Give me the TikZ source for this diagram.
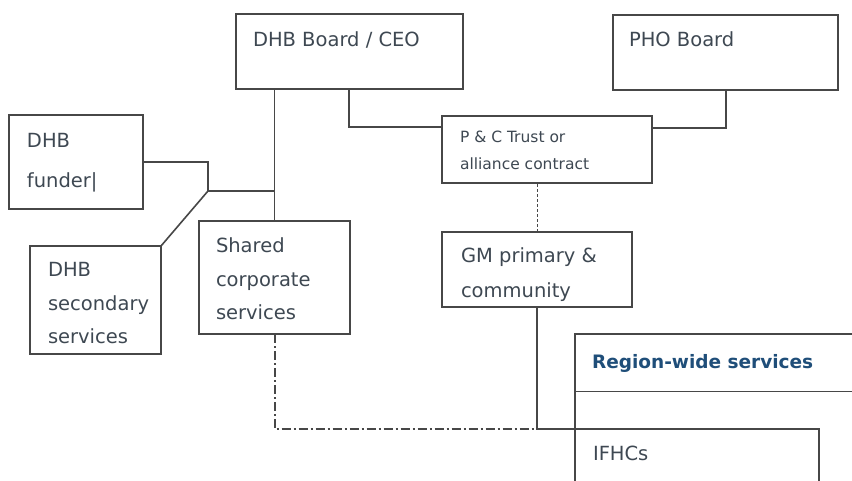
\documentclass[tikz,border=0pt]{standalone}
\usepackage{fontspec}
\setmainfont{DejaVu Sans}
\definecolor{linec}{HTML}{474747}
\definecolor{txtc}{HTML}{3E4852}
\definecolor{regc}{HTML}{1F4E79}
\begin{document}
\begin{tikzpicture}[x=1pt,y=-1pt,
  box/.style={draw=linec,line width=2pt,inner sep=0pt,outer sep=0pt,anchor=north west},
  conn/.style={draw=linec,line width=1.6pt},
  dashconn/.style={draw=linec,line width=1pt,dash pattern=on 3pt off 2pt},
  dashdotconn/.style={draw=linec,line width=2pt,dash pattern=on 9pt off 3pt on 2pt off 3pt},
  txt/.style={text=txtc,inner sep=0pt,outer sep=0pt,anchor=base west,font=\fontsize{19.5}{33.5}\selectfont},
  smalltxt/.style={txt,font=\fontsize{15.5}{27}\selectfont},
  regtxt/.style={txt,text=regc,font=\fontsize{18.5}{20}\selectfont\bfseries}]
\useasboundingbox (0,0) rectangle (852,481);
\clip (0,0) rectangle (852,481);
\fill[white] (0,0) rectangle (852,481);
% boxes
\node[box,minimum width=227pt,minimum height=75pt] (ceo) at (236,14) {};
\node[box,minimum width=225pt,minimum height=75pt] (pho) at (613,15) {};
\node[box,minimum width=210pt,minimum height=67pt] (pc) at (442,116) {};
\node[box,minimum width=134pt,minimum height=94pt] (funder) at (9,115) {};
\node[box,minimum width=151pt,minimum height=113pt] (shared) at (199,221) {};
\node[box,minimum width=131pt,minimum height=108pt] (sec) at (30,246) {};
\node[box,minimum width=190pt,minimum height=75pt] (gm) at (442,232) {};
\node[box,minimum width=300pt,minimum height=200pt] (rg) at (575,334) {};
\node[box,minimum width=244pt,minimum height=100pt] (ifhc) at (575,429) {};
\draw[draw=linec,line width=1pt] ([yshift=-57pt]rg.north west) -- ([yshift=-57pt]rg.north east);
% texts
\node[txt] (tceo) at (253,47) {DHB Board / CEO};
\node[txt] (tpho) at (629,47) {PHO Board};
\node[smalltxt] (tpc) at (460,143) {\begin{tabular}[t]{@{}l@{}}P \& C Trust or\\alliance contract\end{tabular}};
\node[txt,font=\fontsize{19.5}{40}\selectfont] (tfunder) at (27,148) {\begin{tabular}[t]{@{}l@{}}DHB\\funder|\end{tabular}};
\node[txt] (tshared) at (216,253) {\begin{tabular}[t]{@{}l@{}}Shared\\corporate\\services\end{tabular}};
\node[txt] (tsec) at (48,277) {\begin{tabular}[t]{@{}l@{}}DHB\\secondary\\services\end{tabular}};
\node[txt,font=\fontsize{19.5}{35}\selectfont] (tgm) at (461,263) {\begin{tabular}[t]{@{}l@{}}GM primary \&\\community\end{tabular}};
\node[regtxt] (trg) at (592,368) {Region-wide services};
\node[txt] (tifhc) at (593,460) {IFHCs};
% connectors
\draw[conn] (shared.north) -- (shared.north |- ceo.south);
\draw[conn] ([xshift=113pt]ceo.south west) |- ([yshift=-11pt]pc.north west);
\draw[conn] ([xshift=113pt]pho.south west) |- ([yshift=-12pt]pc.north east);
\draw[dashconn] (gm.north) -- (gm.north |- pc.south);
\coordinate (fj) at (208,191);
\draw[conn] (funder.east) -| (fj) -- (fj -| shared.north);
\draw[conn] (fj) -- (sec.north east);
\draw[dashdotconn] (shared.south) |- (gm.south |- ifhc.north west);
\draw[conn] (gm.south) |- (ifhc.north west);
\end{tikzpicture}
\end{document}
